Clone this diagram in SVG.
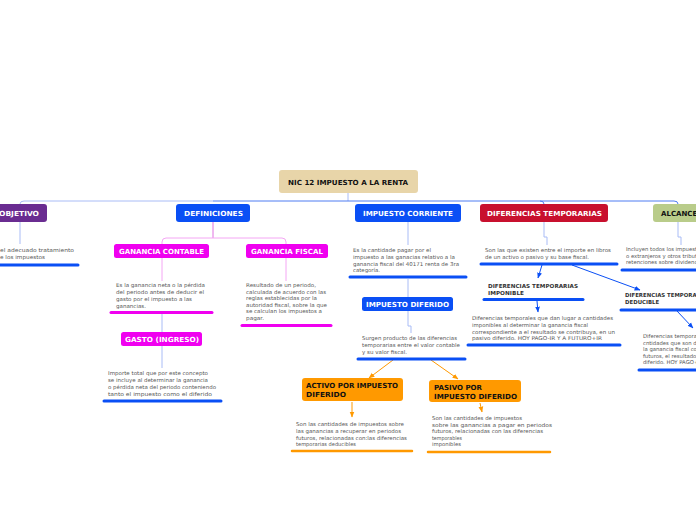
<svg xmlns="http://www.w3.org/2000/svg" width="696" height="520" viewBox="0 0 696 520">
<style>
.lbl{font-family:"DejaVu Sans","Verdana",sans-serif;font-weight:bold;font-size:7px;fill:#fff}
.dk{fill:#111}
.body{font-family:"DejaVu Sans","Verdana",sans-serif;font-size:5.3px;fill:#555}
.sub{font-family:"DejaVu Sans","Verdana",sans-serif;font-weight:bold;font-size:5.4px;fill:#333}
.ul{stroke:#0a4ff5;stroke-width:3;stroke-linecap:round;fill:none}
.ulm{stroke:#f000f0;stroke-width:3;stroke-linecap:round;fill:none}
.ulo{stroke:#ff9900;stroke-width:2.5;stroke-linecap:round;fill:none}
.cn{stroke:#a9bcf6;stroke-width:1;fill:none}
.cb{stroke:#4f7cf2;stroke-width:1;fill:none}
.cp{stroke:#f4a6f4;stroke-width:1;fill:none}
.ab{stroke:#0a4ff5;stroke-width:1;fill:none;marker-end:url(#mb)}
.ao{stroke:#ff9900;stroke-width:1;fill:none;marker-end:url(#mo)}
</style>
<defs>
<marker id="mb" viewBox="0 0 10 10" refX="9" refY="5" markerWidth="6" markerHeight="6" orient="auto"><path d="M0,1 L10,5 L0,9 z" fill="#0a4ff5"/></marker>
<marker id="mo" viewBox="0 0 10 10" refX="9" refY="5" markerWidth="6" markerHeight="6" orient="auto"><path d="M0,1 L10,5 L0,9 z" fill="#ff9900"/></marker>
</defs>
<rect width="696" height="520" fill="#fff"/>

<g id="connectors">
<path class="cn" d="M348,193 V201"/>
<path class="cn" d="M20,204 V204 Q20,201 24,201 H213"/>
<path class="cb" d="M213,201 H674 Q678,201 678,204"/>
<path class="cb" d="M540,201 Q544,201 544,204"/>
<path class="cp" d="M213,222 V238" style="stroke:#e070e0"/>
<path class="cp" d="M162,244 V242 Q162,238 166,238 H282 Q286,238 286,242 V244"/>
<path class="cn" d="M20,222 V244"/>
<path class="cp" d="M162,258 V281"/>
<path class="cp" d="M286,258 V281"/>
<path class="cn" d="M162,314 V332"/>
<path class="cn" d="M162,346 V368"/>
<path class="cn" d="M408,222 V245"/>
<path class="cn" d="M408,279 V297"/>
<path class="cn" d="M408,311 V326 H411 V333"/>
<path class="cn" d="M544,222 V237 H547 V245"/>
<path class="cn" d="M678,222 V237 H681 V245"/>
<path class="ao" d="M393,360 L369,378"/>
<path class="ao" d="M431,360 L458,379"/>
<path class="ao" d="M352,402 V417"/>
<path class="ao" d="M480,403 L482,412"/>
<path class="ab" d="M542,265 L538,278"/>
<path class="ab" d="M572,265 L640,290"/>
<path class="ab" d="M537,301 L538,312"/>
<path class="ab" d="M677,311 L693,328"/>
</g>

<g id="title">
<rect x="279" y="170" width="139" height="23" rx="3" fill="#e8d5a9"/>
<text class="lbl dk" x="288" y="184.5" textLength="120" lengthAdjust="spacingAndGlyphs">NIC 12 IMPUESTO A LA RENTA</text>
</g>

<g id="objetivo">
<rect x="-6" y="204" width="53" height="18" rx="3" fill="#6a2c91"/>
<text class="lbl" x="-1" y="215.5" textLength="40" lengthAdjust="spacingAndGlyphs">OBJETIVO</text>
<text class="body" x="0" y="252" textLength="74" lengthAdjust="spacingAndGlyphs">el adecuado tratamiento</text>
<text class="body" x="0" y="259" textLength="45" lengthAdjust="spacingAndGlyphs">e los impuestos</text>
<path class="ul" d="M0,265 H78"/>
</g>

<g id="definiciones">
<rect x="176" y="204" width="74" height="18" rx="3" fill="#0a4ff5"/>
<text class="lbl" x="184" y="215.5" textLength="59" lengthAdjust="spacingAndGlyphs">DEFINICIONES</text>
</g>

<g id="ganancia-contable">
<rect x="114" y="244" width="95" height="14" rx="2.5" fill="#f000f0"/>
<text class="lbl" x="119" y="253.5" textLength="85" lengthAdjust="spacingAndGlyphs">GANANCIA CONTABLE</text>
<text class="body" x="116" y="287" textLength="89" lengthAdjust="spacingAndGlyphs">Es la ganancia neta o la pérdida</text>
<text class="body" x="116" y="294" textLength="88" lengthAdjust="spacingAndGlyphs">del periodo antes de  deducir el</text>
<text class="body" x="116" y="301" textLength="76" lengthAdjust="spacingAndGlyphs">gasto por el impuesto a las</text>
<text class="body" x="116" y="308" textLength="30" lengthAdjust="spacingAndGlyphs">ganancias.</text>
<path class="ulm" d="M111,312.5 H212"/>
</g>

<g id="ganancia-fiscal">
<rect x="246" y="244" width="82" height="14" rx="2.5" fill="#f000f0"/>
<text class="lbl" x="251" y="253.5" textLength="72" lengthAdjust="spacingAndGlyphs">GANANCIA FISCAL</text>
<text class="body" x="246" y="287" textLength="70" lengthAdjust="spacingAndGlyphs">Resultado de un periodo,</text>
<text class="body" x="246" y="293.6" textLength="80" lengthAdjust="spacingAndGlyphs">calculada de acuerdo con las</text>
<text class="body" x="246" y="300.2" textLength="71" lengthAdjust="spacingAndGlyphs">reglas establecidas por la</text>
<text class="body" x="246" y="306.8" textLength="81" lengthAdjust="spacingAndGlyphs">autoridad fiscal, sobre la que</text>
<text class="body" x="246" y="313.4" textLength="76" lengthAdjust="spacingAndGlyphs">se calculan los impuestos a</text>
<text class="body" x="246" y="320" textLength="18" lengthAdjust="spacingAndGlyphs">pagar.</text>
<path class="ulm" d="M242,325.5 H331"/>
</g>

<g id="gasto">
<rect x="121" y="332" width="81" height="14" rx="2.5" fill="#f000f0"/>
<text class="lbl" x="125" y="341.5" textLength="74" lengthAdjust="spacingAndGlyphs">GASTO (INGRESO)</text>
<text class="body" x="108" y="375" textLength="100" lengthAdjust="spacingAndGlyphs">Importe total que por este concepto</text>
<text class="body" x="108" y="382" textLength="100" lengthAdjust="spacingAndGlyphs">se incluye al determinar la ganancia</text>
<text class="body" x="108" y="389" textLength="108" lengthAdjust="spacingAndGlyphs">o pérdida neta del periodo conteniendo</text>
<text class="body" x="108" y="396" textLength="104" lengthAdjust="spacingAndGlyphs">tanto el impuesto como el diferido</text>
<path class="ul" d="M104,401 H221"/>
</g>

<g id="impuesto-corriente">
<rect x="355" y="204" width="106" height="18" rx="3" fill="#0a4ff5"/>
<text class="lbl" x="363" y="215.5" textLength="90" lengthAdjust="spacingAndGlyphs">IMPUESTO CORRIENTE</text>
<text class="body" x="353" y="252" textLength="78" lengthAdjust="spacingAndGlyphs">Es la cantidade pagar por el</text>
<text class="body" x="353" y="259" textLength="102" lengthAdjust="spacingAndGlyphs">impuesto a las ganacias relativo a la</text>
<text class="body" x="353" y="265.5" textLength="106" lengthAdjust="spacingAndGlyphs">ganancia fiscal del 40171 renta de 3ra</text>
<text class="body" x="353" y="272" textLength="27" lengthAdjust="spacingAndGlyphs">categoría.</text>
<path class="ul" d="M350,277 H466"/>
</g>

<g id="impuesto-diferido">
<rect x="362" y="297" width="91" height="14" rx="2.5" fill="#0a4ff5"/>
<text class="lbl" x="366" y="306.5" textLength="83" lengthAdjust="spacingAndGlyphs">IMPUESTO DIFERIDO</text>
<text class="body" x="362" y="340" textLength="95" lengthAdjust="spacingAndGlyphs">Surgen producto de las diferencias</text>
<text class="body" x="362" y="347" textLength="98" lengthAdjust="spacingAndGlyphs">temporarias entre el valor contable</text>
<text class="body" x="362" y="354" textLength="45" lengthAdjust="spacingAndGlyphs">y su valor fiscal.</text>
<path class="ul" d="M358,359 H465"/>
</g>

<g id="activo">
<rect x="302" y="378" width="101" height="23" rx="3" fill="#ff9900"/>
<text class="lbl dk" x="306" y="388" textLength="92" lengthAdjust="spacingAndGlyphs">ACTIVO POR IMPUESTO</text>
<text class="lbl dk" x="306" y="397" textLength="40" lengthAdjust="spacingAndGlyphs">DIFERIDO</text>
<text class="body" x="296" y="426" textLength="108" lengthAdjust="spacingAndGlyphs">Son las cantidades de impuestos sobre</text>
<text class="body" x="296" y="432.5" textLength="105" lengthAdjust="spacingAndGlyphs">las ganancias a recuperar en periodos</text>
<text class="body" x="296" y="439.5" textLength="111" lengthAdjust="spacingAndGlyphs">futuros, relacionadas con:las diferencias</text>
<text class="body" x="296" y="446" textLength="60" lengthAdjust="spacingAndGlyphs">temporarias deducibles</text>
<path class="ulo" d="M292,451 H412"/>
</g>

<g id="pasivo">
<rect x="429" y="380" width="92" height="22" rx="3" fill="#ff9900"/>
<text class="lbl dk" x="434" y="389.5" textLength="48" lengthAdjust="spacingAndGlyphs">PASIVO POR</text>
<text class="lbl dk" x="434" y="398.5" textLength="83" lengthAdjust="spacingAndGlyphs">IMPUESTO DIFERIDO</text>
<text class="body" x="432" y="420" textLength="90" lengthAdjust="spacingAndGlyphs">Son las cantidades de impuestos</text>
<text class="body" x="432" y="426.5" textLength="120" lengthAdjust="spacingAndGlyphs">sobre las ganancias a pagar en periodos</text>
<text class="body" x="432" y="433" textLength="111" lengthAdjust="spacingAndGlyphs">futuros, relacionadas con las diferencias</text>
<text class="body" x="432" y="439.5" textLength="30" lengthAdjust="spacingAndGlyphs">temporables</text>
<text class="body" x="432" y="446" textLength="29" lengthAdjust="spacingAndGlyphs">imponibles</text>
<path class="ulo" d="M428,452 H550"/>
</g>

<g id="diferencias-temporarias">
<rect x="480" y="204" width="128" height="18" rx="3" fill="#c8102e"/>
<text class="lbl" x="487" y="215.5" textLength="115" lengthAdjust="spacingAndGlyphs">DIFERENCIAS TEMPORARIAS</text>
<text class="body" x="485" y="252" textLength="126" lengthAdjust="spacingAndGlyphs">Son las que existen entre el importe en libros</text>
<text class="body" x="485" y="259" textLength="104" lengthAdjust="spacingAndGlyphs">de un activo o pasivo y su base fiscal.</text>
<path class="ul" d="M481,264 H617"/>
</g>

<g id="dt-imponible">
<text class="sub" x="488" y="288" textLength="90" lengthAdjust="spacingAndGlyphs">DIFERENCIAS TEMPORARIAS</text>
<text class="sub" x="488" y="295" textLength="36" lengthAdjust="spacingAndGlyphs">IMPONIBLE</text>
<path class="ul" d="M484,299.5 H583"/>
<text class="body" x="472" y="320" textLength="141" lengthAdjust="spacingAndGlyphs">Diferencias temporales que dan lugar a cantidades</text>
<text class="body" x="472" y="327" textLength="116" lengthAdjust="spacingAndGlyphs">imponibles al determinar la ganancia fiscal</text>
<text class="body" x="472" y="333.5" textLength="143" lengthAdjust="spacingAndGlyphs">correspondiente a el resultado se contribuya, en un</text>
<text class="body" x="472" y="340" textLength="130" lengthAdjust="spacingAndGlyphs">pasivo diferido. HOY PAGO-IR Y A FUTURO+IR</text>
<path class="ul" d="M468,345 H620"/>
</g>

<g id="dt-deducible">
<text class="sub" x="625" y="297">DIFERENCIAS TEMPORARIAS</text>
<text class="sub" x="625" y="304">DEDUCIBLE</text>
<path class="ul" d="M621,310 H700"/>
<text class="body" x="643" y="338">Diferencias temporales que dan lugar a</text>
<text class="body" x="643" y="344.5">cntidades que son deducibles al determinar</text>
<text class="body" x="643" y="351">la ganancia fiscal correspondiente</text>
<text class="body" x="643" y="357.5">futuros, el resultado se contribuya</text>
<text class="body" x="643" y="364">diferido. HOY PAGO+IR Y A FUTURO-IR</text>
<path class="ul" d="M639,370 H700"/>
</g>

<g id="alcance">
<rect x="653" y="204" width="60" height="18" rx="3" fill="#b9cc8a"/>
<text class="lbl dk" x="661" y="215.5">ALCANCE</text>
<text class="body" x="626" y="251">Incluyen todos los impuestos</text>
<text class="body" x="626" y="257.5">o extranjeros y otros tributos</text>
<text class="body" x="626" y="264">retenciones sobre dividendos</text>
<path class="ul" d="M622,270 H700"/>
</g>
</svg>
